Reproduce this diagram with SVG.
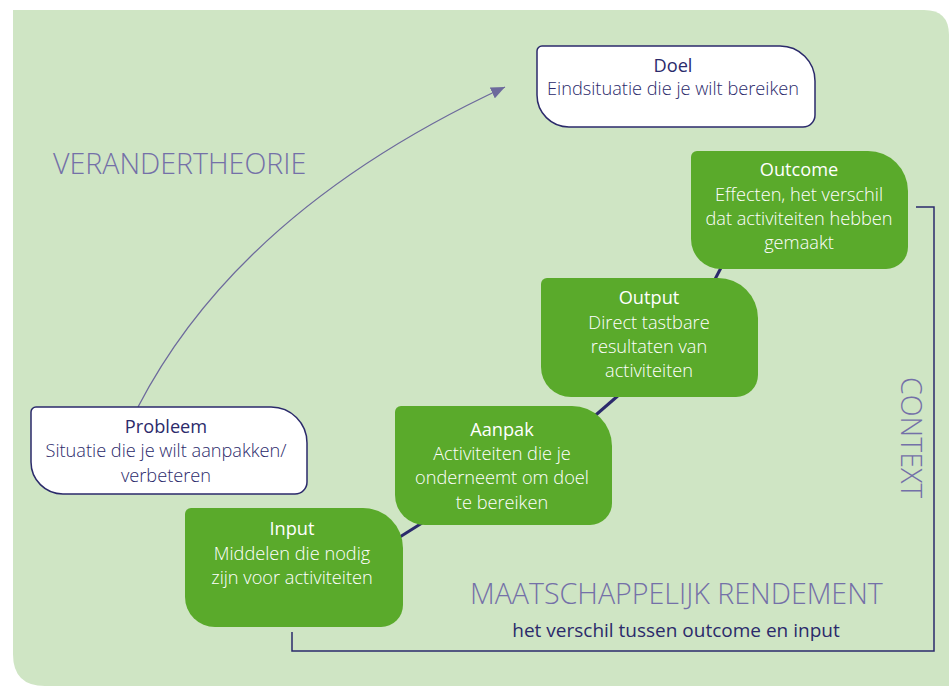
<svg xmlns="http://www.w3.org/2000/svg" width="949" height="686" viewBox="0 0 949 686">
<style>
.panel{fill:#cfe5c4}
.white{fill:#ffffff;stroke:#2b2a6b;stroke-width:1.5}
.green{fill:#5aaa2b}
.t{font-family:"Open Sans","Noto Sans",sans-serif;font-size:18.2px;text-anchor:middle}
.tw{fill:#ffffff}
.tn{fill:#2b2a6b}
.title{font-weight:500}
.body{font-weight:300}
.big{font-family:"Open Sans","Noto Sans",sans-serif;font-size:28.6px;fill:#7470a8;font-weight:300}
.sub{font-family:"Open Sans","Noto Sans",sans-serif;font-size:19px;fill:#2b2a6b;text-anchor:middle}
.link{stroke:#2b2a6b;stroke-width:3;fill:none}
.bracket{stroke:#2b2a6b;stroke-width:1.5;fill:none}
.arrow{stroke:#6d6a9c;stroke-width:1.3;fill:none}
</style>
<defs>
<marker id="ah" markerUnits="userSpaceOnUse" markerWidth="16" markerHeight="12" refX="14" refY="6" orient="auto">
<path d="M0,0 L14,6 L0,12 Z" fill="#6d6a9c"/>
</marker>
</defs>
<path class="panel" d="M13,10 H924 Q949,10 949,35 V686 H45 Q13,686 13,654 Z"/>
<g id="connectors">
<line class="link" x1="395" y1="540" x2="430" y2="518"/>
<line class="link" x1="590" y1="420" x2="620" y2="394"/>
<line class="link" x1="712" y1="285" x2="724" y2="262"/>
<path class="bracket" d="M916,207 H934 V651 H292 V632"/>
<path class="arrow" d="M138,407 Q240,210 505,87" marker-end="url(#ah)"/>
</g>
<g id="doel">
<path class="white" d="M542,46 H780 A35,35 0 0 1 815,81 V115 A12,12 0 0 1 803,127 H569 A32,32 0 0 1 537,95 V51 A5,5 0 0 1 542,46 Z"/>
<text class="t tn title" x="673" y="72">Doel</text>
<text class="t tn body" x="673" y="95">Eindsituatie die je wilt bereiken</text>
</g>
<g id="probleem">
<path class="white" d="M36,407 H271 A36,36 0 0 1 307,443 V482 A12,12 0 0 1 295,494 H63 A32,32 0 0 1 31,462 V412 A5,5 0 0 1 36,407 Z"/>
<text class="t tn title" x="166" y="433">Probleem</text>
<text class="t tn body" x="166" y="457">Situatie die je wilt aanpakken/</text>
<text class="t tn body" x="166" y="482">verbeteren</text>
</g>
<g id="outcome">
<path class="green" d="M697,151 H868 A40,40 0 0 1 908,191 V247 A22,22 0 0 1 886,269 H721 A30,30 0 0 1 691,239 V157 A6,6 0 0 1 697,151 Z"/>
<text class="t tw title" x="799" y="176">Outcome</text>
<text class="t tw body" x="799" y="201">Effecten, het verschil</text>
<text class="t tw body" x="799" y="225">dat activiteiten hebben</text>
<text class="t tw body" x="799" y="249">gemaakt</text>
</g>
<g id="output">
<path class="green" d="M547,278 H718 A40,40 0 0 1 758,318 V375 A22,22 0 0 1 736,397 H571 A30,30 0 0 1 541,367 V284 A6,6 0 0 1 547,278 Z"/>
<text class="t tw title" x="649" y="304">Output</text>
<text class="t tw body" x="649" y="329">Direct tastbare</text>
<text class="t tw body" x="649" y="353">resultaten van</text>
<text class="t tw body" x="649" y="377">activiteiten</text>
</g>
<g id="aanpak">
<path class="green" d="M401,406 H572 A40,40 0 0 1 612,446 V503 A22,22 0 0 1 590,525 H425 A30,30 0 0 1 395,495 V412 A6,6 0 0 1 401,406 Z"/>
<text class="t tw title" x="502" y="436">Aanpak</text>
<text class="t tw body" x="502" y="460">Activiteiten die je</text>
<text class="t tw body" x="502" y="484">onderneemt om doel</text>
<text class="t tw body" x="502" y="509">te bereiken</text>
</g>
<g id="input">
<path class="green" d="M191,508 H363 A40,40 0 0 1 403,548 V605 A22,22 0 0 1 381,627 H215 A30,30 0 0 1 185,597 V514 A6,6 0 0 1 191,508 Z"/>
<text class="t tw title" x="292" y="535">Input</text>
<text class="t tw body" x="292" y="560">Middelen die nodig</text>
<text class="t tw body" x="292" y="584">zijn voor activiteiten</text>
</g>
<g id="labels">
<text class="big" x="53" y="174">VERANDERTHEORIE</text>
<text class="big" x="470" y="604">MAATSCHAPPELIJK RENDEMENT</text>
<text class="sub" x="676" y="637">het verschil tussen outcome en input</text>
<text class="big" transform="translate(901,377) rotate(90)" x="0" y="0">CONTEXT</text>
</g>
</svg>
